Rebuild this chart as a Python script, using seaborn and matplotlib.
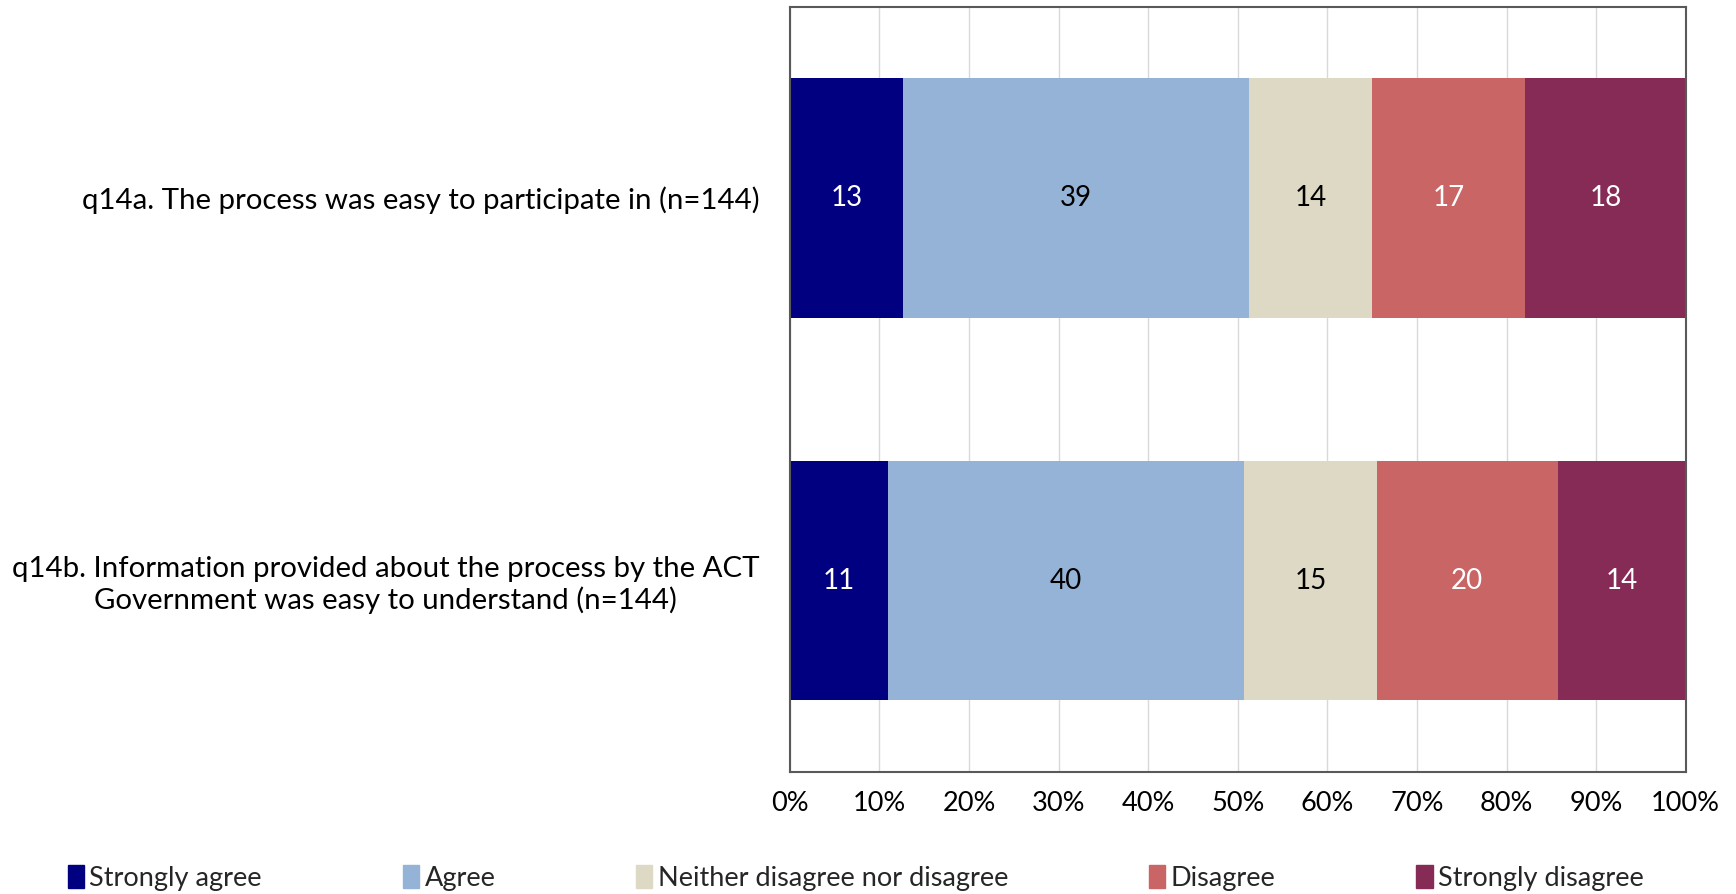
import numpy as np
import pandas as pd
import matplotlib
matplotlib.use("Agg")
import matplotlib.pyplot as plt
import matplotlib.patches as mpatches
import seaborn as sns

questions = [
    "q14a. The process was easy to participate in (n=144)",
    "q14b. Information provided about the process by the ACT\nGovernment was easy to understand (n=144)",
]
responses = ["Strongly agree", "Agree", "Neither disagree nor disagree",
             "Disagree", "Strongly disagree"]
# percentages per response
strongly_agree = [12.6, 10.9]
agree = [38.6, 39.8]
neither = [13.8, 14.8]
disagree = [17.1, 20.2]
strongly_disagree = [17.9, 14.3]

colors = ["#000080", "#95B3D7", "#DDD9C4", "#C96565", "#862A56"]
label_colors = ["white", "black", "black", "white", "white"]

sns.set_style("white")
plt.rcParams["font.family"] = ["Lato", "DejaVu Sans"]
FS = 19.5

vals = np.array([strongly_agree, agree, neither, disagree, strongly_disagree])
cum = vals.cumsum(axis=0)

fig = plt.figure(figsize=(17.36, 8.94), dpi=100)
ax = fig.add_axes([0.455, 0.1365, 0.516, 0.856])

# draw cumulative totals from the last response backwards so each stack shows
for i in reversed(range(len(responses))):
    df = pd.DataFrame({"question": questions, "total": cum[i]})
    sns.barplot(data=df, x="total", y="question", color=colors[i], orient="h",
                width=0.625, saturation=1, ax=ax, edgecolor="none", linewidth=0)

for i in range(len(responses)):
    for j in range(len(questions)):
        ax.text(cum[i, j] - vals[i, j] / 2, j, f"{vals[i, j]:.0f}",
                ha="center", va="center", fontsize=FS + 0.5, color=label_colors[i])

ax.set_xlim(0, 100)
ax.set_ylim(1.5, -0.5)
ax.set_xticks(np.arange(0, 101, 10))
ax.set_xticklabels([f"{t}%" for t in range(0, 101, 10)])
ax.set_xlabel("")
ax.set_ylabel("")
ax.xaxis.grid(True, color="#D9D9D9", linewidth=1)
ax.set_axisbelow(True)
ax.tick_params(axis="x", labelsize=FS, pad=14, length=0, colors="black")
ax.tick_params(axis="y", labelsize=21.2, pad=22, length=0, colors="black")
for lab in ax.get_yticklabels():
    lab.set_multialignment("center")
for s in ax.spines.values():
    s.set_visible(True)
    s.set_color("#595959")
    s.set_linewidth(1.5)

handles = [mpatches.Patch(color=c, label=r) for c, r in zip(colors, responses)]
fig.legend(handles=handles, loc="lower left", bbox_to_anchor=(0.025, -0.024),
           ncol=5, frameon=False, fontsize=FS, handlelength=0.6, handleheight=0.9,
           handletextpad=0.2, columnspacing=5.2)

fig.savefig("out.png", dpi=100)
